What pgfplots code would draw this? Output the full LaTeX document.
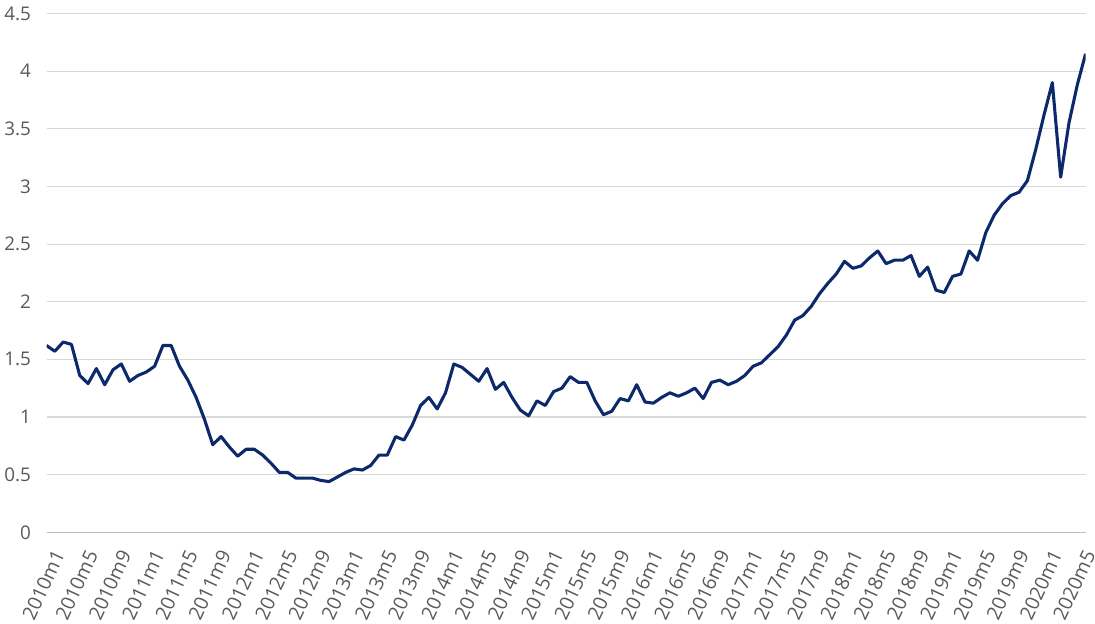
\documentclass[border=0pt]{standalone}
\usepackage{pgfplots}
\pgfplotsset{compat=1.18}
\usepackage{fontspec}
\setmainfont{Open Sans}
\definecolor{navy}{HTML}{0C2A6B}
\definecolor{tickgray}{HTML}{595959}
\begin{document}
\begin{tikzpicture}
\begin{axis}[
  scale only axis, width=773pt, height=386pt,
  xmin=0, xmax=125, ymin=0, ymax=4.5,
  axis line style={draw=none},
  ytick={0,0.5,...,4.5},
  yticklabels={0,0.5,1,1.5,2,2.5,3,3.5,4,4.5},
  ymajorgrids, grid style={draw=black!15, line width=0.8pt},
  xtick={0,4,...,124},
  xticklabels={2010m1,2010m5,2010m9,2011m1,2011m5,2011m9,2012m1,2012m5,2012m9,2013m1,2013m5,2013m9,2014m1,2014m5,2014m9,2015m1,2015m5,2015m9,2016m1,2016m5,2016m9,2017m1,2017m5,2017m9,2018m1,2018m5,2018m9,2019m1,2019m5,2019m9,2020m1,2020m5},
  x tick label style={rotate=65, anchor=north east, inner sep=1pt, yshift=-8pt, xshift=-8pt, font=\fontsize{14.5}{14.5}\selectfont, text=tickgray},
  y tick label style={font=\fontsize{14}{14}\selectfont, text=tickgray, xshift=-8pt},
  major tick length=0pt,
  extra y ticks={0}, extra y tick labels={}, extra y tick style={grid style={draw=black!25, line width=0.8pt}},
]
\addplot[navy, line width=2.3pt, line join=round] table[x expr=\coordindex, y index=0] {
v
1.62
1.57
1.65
1.63
1.36
1.29
1.42
1.28
1.41
1.46
1.31
1.36
1.39
1.44
1.62
1.62
1.44
1.32
1.17
0.98
0.76
0.83
0.74
0.66
0.72
0.72
0.67
0.60
0.52
0.52
0.47
0.47
0.47
0.45
0.44
0.48
0.52
0.55
0.54
0.58
0.67
0.67
0.83
0.80
0.93
1.10
1.17
1.07
1.21
1.46
1.43
1.37
1.31
1.42
1.24
1.30
1.17
1.06
1.01
1.14
1.10
1.22
1.25
1.35
1.30
1.30
1.14
1.02
1.05
1.16
1.14
1.28
1.13
1.12
1.17
1.21
1.18
1.21
1.25
1.16
1.30
1.32
1.28
1.31
1.36
1.44
1.47
1.54
1.61
1.71
1.84
1.88
1.96
2.07
2.16
2.24
2.35
2.29
2.31
2.38
2.44
2.33
2.36
2.36
2.40
2.22
2.30
2.10
2.08
2.22
2.24
2.44
2.36
2.60
2.75
2.85
2.92
2.95
3.05
3.32
3.62
3.90
3.08
3.55
3.88
4.15
};
\end{axis}
\pgfresetboundingbox
\path[use as bounding box] (current axis.outer south west) rectangle ([xshift=7pt,yshift=10pt]current axis.north east);
\end{tikzpicture}
\end{document}
